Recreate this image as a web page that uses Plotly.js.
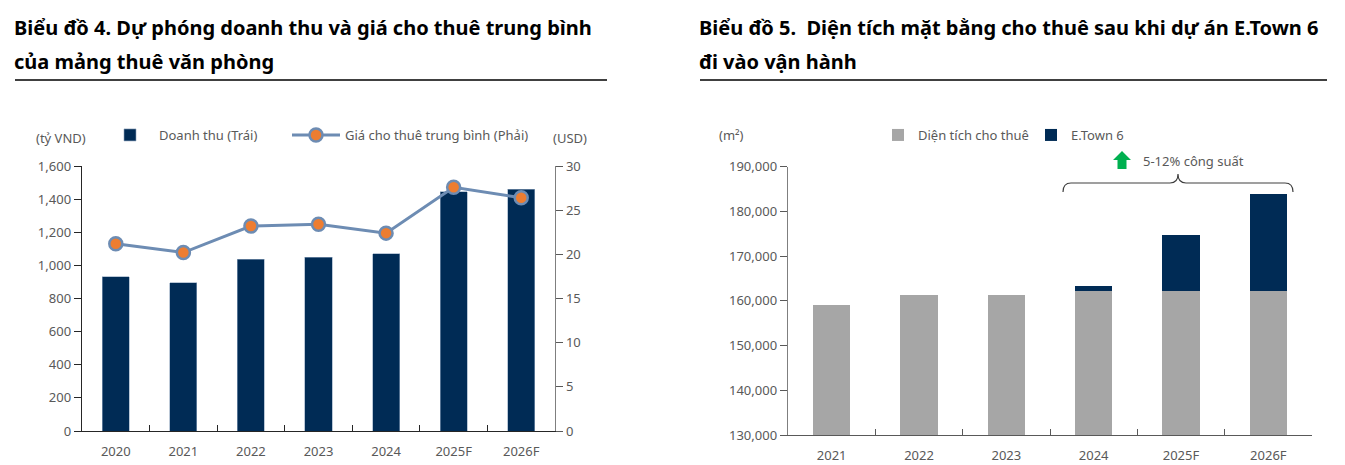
<!DOCTYPE html>
<html>
<head>
<meta charset="utf-8">
<script src="https://cdn.plot.ly/plotly-3.0.1.min.js"></script>
<style>html,body{margin:0;padding:0;background:#fff;}#chart{width:1345px;height:465px;}</style>
</head>
<body>
<div id="chart"></div>
<script>
// ---- Data: chart 4 ----
const years4 = ["2020", "2021", "2022", "2023", "2024", "2025F", "2026F"];
const revenue = [930, 895, 1037, 1050, 1069, 1444, 1460];          // tỷ VND (left axis)
const avgRent = [21.2, 20.2, 23.2, 23.4, 22.4, 27.6, 26.4];        // USD (right axis)
const leftTicks = [0, 200, 400, 600, 800, 1000, 1200, 1400, 1600];
const rightTicks = [0, 5, 10, 15, 20, 25, 30];

// ---- Data: chart 5 ----
const years5 = ["2021", "2022", "2023", "2024", "2025F", "2026F"];
const leasedArea = [159100, 161400, 161400, 162300, 162300, 162300]; // m2
const etown6 = [0, 0, 0, 1050, 12400, 21600];                       // m2
const areaTicks = [130000, 140000, 150000, 160000, 170000, 180000, 190000];

const W = 1345, H = 465;
const px = x => x / W;
const py = y => 1 - y / H;

const NAVY = "#002b55";
const GRAY = "#a6a6a6";
const TXT = "#595959";
const FONT = "Noto Sans";
const tickFont = {family: FONT, size: 13, color: TXT};

const traces = [
  {type: "bar", name: "Doanh thu (Trái)", x: years4, y: revenue, xaxis: "x", yaxis: "y", width: 0.4,
   marker: {color: NAVY, line: {color: "#8da3bd", width: 0.6}}, legend: "legend"},
  {type: "scatter", mode: "lines+markers", name: "Giá cho thuê trung bình (Phải)", x: years4, y: avgRent,
   xaxis: "x", yaxis: "y2", line: {color: "#6d8cb3", width: 3},
   marker: {color: "#ed7d31", size: 13, line: {color: "#6d8cb3", width: 2.5}}, legend: "legend3"},
  {type: "bar", name: "Diện tích cho thuê", x: years5, y: leasedArea, xaxis: "x3", yaxis: "y3", width: 0.43,
   marker: {color: GRAY, line: {width: 0}}, legend: "legend2"},
  {type: "bar", name: "E.Town 6", x: years5, y: etown6, xaxis: "x3", yaxis: "y3", width: 0.43,
   marker: {color: NAVY, line: {width: 0}}, legend: "legend4"}
];

const commonX = {type: "category", showline: true, linewidth: 1.3, ticks: "inside", tickson: "boundaries",
  ticklen: 6, tickwidth: 1, showgrid: false, zeroline: false, tickfont: tickFont, ticklabelstandoff: 8, fixedrange: true};
const commonY = {showline: true, linewidth: 1.3, ticks: "outside", ticklen: 7, tickwidth: 1,
  showgrid: false, zeroline: false, tickfont: tickFont, tickformat: ",", fixedrange: true};

function leg(xPix, iw) {
  return {orientation: "h", x: px(xPix), y: py(135), xanchor: "left", yanchor: "middle",
    font: {family: FONT, size: 13, color: TXT}, itemwidth: iw, bgcolor: "rgba(0,0,0,0)"};
}

const titleFont = {family: FONT, size: 20, color: "#000"};
function note(text, xPix, yPix, font) {
  return {text: text, x: px(xPix), y: py(yPix), xref: "paper", yref: "paper",
    xanchor: "left", yanchor: "middle", showarrow: false, font: font};
}

const layout = {
  width: W, height: H,
  margin: {l: 0, r: 0, t: 0, b: 0},
  paper_bgcolor: "#fff", plot_bgcolor: "rgba(0,0,0,0)",
  barmode: "stack",
  showlegend: true,
  font: {family: FONT, color: TXT},
  xaxis: Object.assign({}, commonX, {domain: [px(82), px(555)], anchor: "y", linecolor: "#262626", tickcolor: "#262626"}),
  yaxis: Object.assign({}, commonY, {domain: [py(431), py(166)], anchor: "x", range: [0, 1600],
    tickvals: leftTicks, linecolor: "#262626", tickcolor: "#262626"}),
  yaxis2: Object.assign({}, commonY, {domain: [py(431), py(166)], overlaying: "y", side: "right", anchor: "x",
    range: [0, 30], tickvals: rightTicks, linecolor: "#7f7f7f", tickcolor: "#595959"}),
  xaxis3: Object.assign({}, commonX, {domain: [px(788), px(1312)], anchor: "y3", linecolor: "#595959", tickcolor: "#595959"}),
  yaxis3: Object.assign({}, commonY, {domain: [py(435), py(166.7)], anchor: "x3", range: [130000, 190000],
    tickvals: areaTicks, linecolor: "#7f7f7f", tickcolor: "#595959"}),
  legend: leg(101, 48),
  legend3: leg(287, 48),
  legend2: leg(878, 30),
  legend4: leg(1031, 30),
  annotations: [
    note("<b>Biểu đồ 4. Dự phóng doanh thu và giá cho thuê trung bình</b>", 12, 28, titleFont),
    note("<b>của mảng thuê văn phòng</b>", 12, 62, titleFont),
    note("<b>Biểu đồ 5.  Diện tích mặt bằng cho thuê sau khi dự án E.Town 6</b>", 697, 28, titleFont),
    note("<b>đi vào vận hành</b>", 697, 62, titleFont),
    note("(tỷ VND)", 34, 138, tickFont),
    note("(USD)", 551, 138, tickFont),
    note("(m²)", 717, 135, tickFont),
    note("5-12% công suất", 1141, 161, tickFont)
  ],
  shapes: [
    {type: "line", xref: "paper", yref: "paper", x0: px(15), x1: px(607), y0: py(80), y1: py(80), line: {color: "#000", width: 1.5}},
    {type: "line", xref: "paper", yref: "paper", x0: px(700), x1: px(1327), y0: py(80), y1: py(80), line: {color: "#000", width: 1.5}},
    {type: "path", xref: "paper", yref: "paper", line: {color: "#404040", width: 1.2},
     path: `M${px(1063)},${py(192)} Q${px(1063)},${py(183)} ${px(1071)},${py(183)} L${px(1170)},${py(183)} Q${px(1178)},${py(183)} ${px(1178)},${py(174)} Q${px(1178)},${py(183)} ${px(1186)},${py(183)} L${px(1285)},${py(183)} Q${px(1293)},${py(183)} ${px(1293)},${py(192)}`},
    {type: "path", xref: "paper", yref: "paper", line: {width: 0}, fillcolor: "#00b050",
     path: `M${px(1122)},${py(151)} L${px(1131)},${py(160)} L${px(1126.5)},${py(160)} L${px(1126.5)},${py(169)} L${px(1117.5)},${py(169)} L${px(1117.5)},${py(160)} L${px(1113)},${py(160)} Z`}
  ]
};

Plotly.newPlot("chart", traces, layout, {displayModeBar: false, staticPlot: true});
</script>
</body>
</html>
